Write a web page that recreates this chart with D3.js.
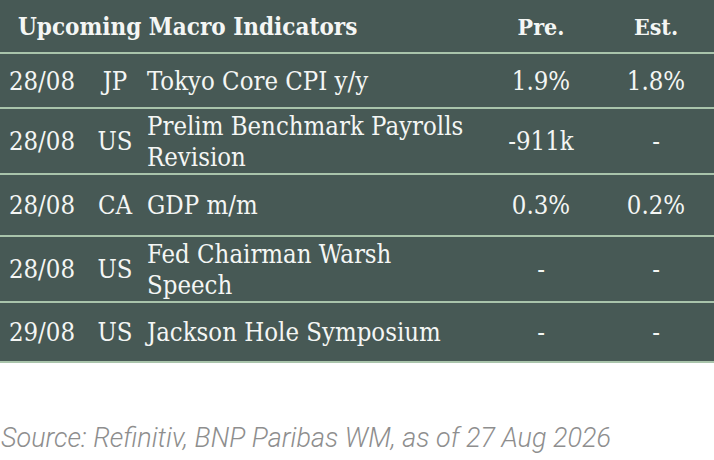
<!DOCTYPE html>
<html>
<head>
<meta charset="utf-8">
<script src="https://cdn.jsdelivr.net/npm/d3@7"></script>
<style>
  body { margin: 0; background: #fff; }
  svg { display: block; }
</style>
</head>
<body>
<div id="viz-container"></div>
<script>
// table content
const title = 'Upcoming Macro Indicators';
const headers = ['Pre.', 'Est.'];
const dates = ['28/08', '28/08', '28/08', '28/08', '29/08'];
const countries = ['JP', 'US', 'CA', 'US', 'US'];
const indicators = [
  ['Tokyo Core CPI y/y'],
  ['Prelim Benchmark Payrolls', 'Revision'],
  ['GDP m/m'],
  ['Fed Chairman Warsh', 'Speech'],
  ['Jackson Hole Symposium']
];
const previous = ['1.9%', '-911k', '0.3%', '-', '-'];
const estimates = ['1.8%', '-', '0.2%', '-', '-'];
const source = 'Source: Refinitiv, BNP Paribas WM, as of 27 Aug 2026';

const width = 714, height = 460;
const headerHeight = 53;
const rowHeights = [55, 66, 62, 66, 60];
const bg = '#475955', rule = '#a9c4ab', ink = '#f4f6f4';
const serif = '"DejaVu Serif Condensed", "DejaVu Serif", serif';

const rows = dates.map((d, i) => ({
  date: d, country: countries[i], name: indicators[i],
  pre: previous[i], est: estimates[i], h: rowHeights[i]
}));
let acc = headerHeight;
rows.forEach(r => { r.y0 = acc; acc += r.h; });
const tableBottom = acc;

const x = d3.scaleOrdinal()
  .domain(['date', 'country', 'name', 'pre', 'est'])
  .range([42, 115, 147, 541, 656]);

const svg = d3.select('#viz-container')
  .append('svg')
  .attr('width', width)
  .attr('height', height);

svg.append('rect')
  .attr('width', width)
  .attr('height', tableBottom)
  .attr('fill', bg);

// header
svg.append('text')
  .attr('x', 18)
  .attr('y', 35)
  .attr('fill', ink)
  .style('font-family', serif)
  .style('font-weight', 'bold')
  .style('font-size', '24px')
  .text(title);
svg.selectAll('.hdr')
  .data(headers)
  .join('text')
  .attr('class', 'hdr')
  .attr('x', (d, i) => x(i === 0 ? 'pre' : 'est'))
  .attr('y', 35)
  .attr('text-anchor', 'middle')
  .attr('fill', ink)
  .style('font-family', serif)
  .style('font-weight', 'bold')
  .style('font-size', '23px')
  .text(d => d);

// rules
svg.selectAll('.rule')
  .data([headerHeight, ...rows.map(r => r.y0 + r.h)])
  .join('line')
  .attr('class', 'rule')
  .attr('x1', 0).attr('x2', width)
  .attr('y1', d => d).attr('y2', d => d)
  .attr('stroke', rule)
  .attr('stroke-width', 2);

const g = svg.selectAll('.row')
  .data(rows)
  .join('g')
  .attr('class', 'row')
  .attr('transform', d => `translate(0,${d.y0 + d.h / 2})`)
  .style('font-family', serif)
  .style('font-size', '25.5px')
  .attr('fill', ink);

const cell = (key, anchor) => g.append('text')
  .attr('x', x(key))
  .attr('y', 0)
  .attr('dy', '0.36em')
  .attr('text-anchor', anchor)
  .text(d => d[key]);

cell('date', 'middle');
cell('country', 'middle');
cell('pre', 'middle');
cell('est', 'middle');

g.append('text')
  .attr('x', x('name'))
  .selectAll('tspan')
  .data(d => d.name.map((t, i) => ({t, i, n: d.name.length})))
  .join('tspan')
  .attr('x', x('name'))
  .attr('y', d => (d.i - (d.n - 1) / 2) * 31)
  .attr('dy', '0.36em')
  .text(d => d.t);

// source note
svg.append('text')
  .attr('x', 1)
  .attr('y', 447)
  .attr('fill', '#8e8e8e')
  .attr('textLength', 610)
  .attr('lengthAdjust', 'spacingAndGlyphs')
  .style('font-family', 'Roboto, sans-serif')
  .style('font-weight', 300)
  .style('font-style', 'italic')
  .style('font-size', '27px')
  .text(source);
</script>
</body>
</html>
